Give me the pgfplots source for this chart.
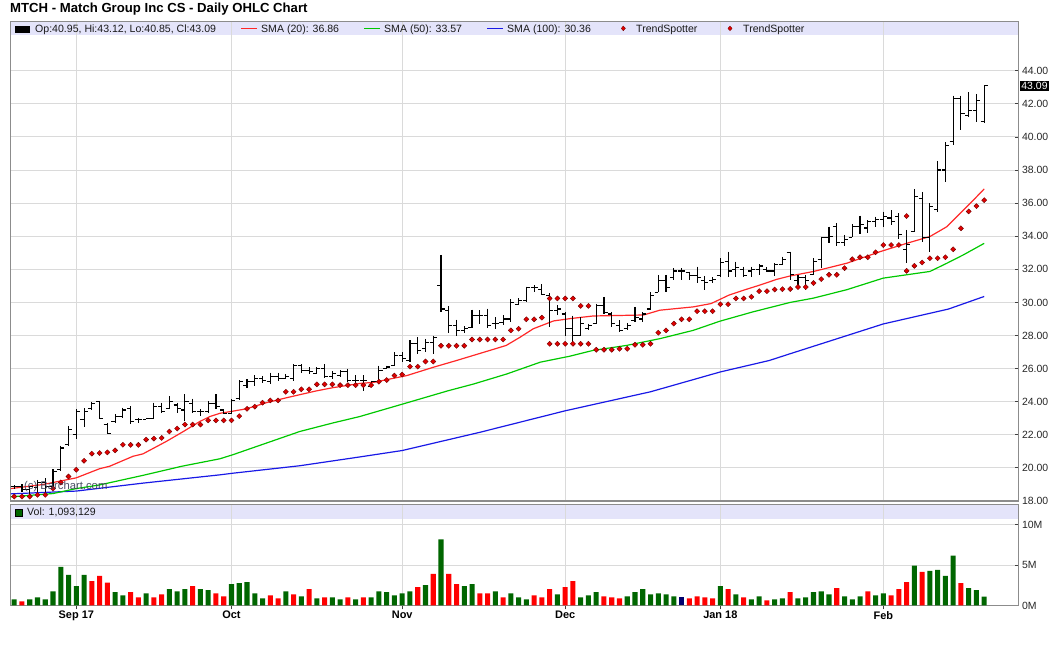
\documentclass[border=0pt]{standalone}
\usepackage{pgfplots}
\pgfplotsset{compat=1.18}
\usepackage{pgfplotstable}
\usepackage{fontspec}
\setmainfont{Liberation Sans}
\definecolor{bandc}{RGB}{228,228,250}
\definecolor{gridc}{RGB}{218,218,218}
\definecolor{framec}{RGB}{140,140,140}
\definecolor{vgreen}{RGB}{0,102,0}
\definecolor{vred}{RGB}{255,0,0}
\definecolor{vnavy}{RGB}{0,0,110}
\definecolor{smared}{RGB}{255,40,40}
\definecolor{smagreen}{RGB}{0,200,0}
\definecolor{smablue}{RGB}{25,25,230}
\definecolor{tsred}{RGB}{225,0,0}
\definecolor{tsdark}{RGB}{110,0,0}
\definecolor{wmark}{RGB}{55,60,85}

\pgfdeclareplotmark{openT}{\pgfpathmoveto{\pgfqpoint{-3.6bp}{0bp}}\pgfpathlineto{\pgfqpoint{0bp}{0bp}}\pgfusepathqstroke}
\pgfdeclareplotmark{closeT}{\pgfpathmoveto{\pgfqpoint{0bp}{0bp}}\pgfpathlineto{\pgfqpoint{3.6bp}{0bp}}\pgfusepathqstroke}

\pgfplotstableread{
i o h l c
0 18.85 18.95 18.75 18.85
1 18.90 19.00 18.57 18.70
2 18.70 18.92 18.27 18.85
3 18.80 19.28 18.57 19.10
4 19.10 19.38 18.57 18.90
5 18.90 19.93 18.77 19.80
6 19.90 21.35 19.83 21.20
7 21.40 22.52 21.35 22.30
8 22.00 23.53 21.77 23.40
9 22.90 23.60 22.50 23.40
10 23.60 24.00 23.50 23.90
11 24.00 24.05 22.93 23.00
12 22.60 22.72 22.08 22.10
13 22.80 23.23 22.72 23.10
14 23.10 23.64 23.03 23.50
15 23.60 23.74 22.68 22.80
16 22.90 23.03 22.72 22.90
17 22.95 23.03 22.93 23.00
18 23.00 23.94 22.93 23.70
19 23.70 23.94 23.33 23.40
20 23.60 24.34 23.53 24.00
21 23.80 23.94 23.33 23.60
22 23.50 24.45 22.82 24.00
23 23.90 24.18 23.33 23.40
24 23.40 23.53 23.13 23.40
25 23.40 24.04 23.33 23.90
26 23.90 24.45 23.53 23.70
27 23.50 23.53 23.23 23.30
28 23.30 24.14 23.23 24.10
29 24.20 25.30 24.10 25.20
30 25.00 25.36 24.85 25.20
31 25.20 25.60 24.95 25.40
32 25.40 25.56 25.15 25.30
33 25.20 25.76 25.05 25.50
34 25.50 25.76 25.26 25.40
35 25.40 25.66 25.36 25.50
36 25.40 26.27 25.26 26.20
37 26.20 26.27 25.76 25.90
38 25.90 26.07 25.66 25.80
39 25.70 26.07 25.66 26.00
40 26.00 26.27 25.46 25.50
41 25.50 25.86 25.36 25.70
42 25.60 25.90 25.50 25.80
43 25.80 26.00 25.20 25.30
44 25.30 25.60 24.87 25.30
45 25.30 25.60 24.67 25.30
46 24.90 25.27 24.87 25.20
47 25.20 26.18 25.07 25.90
48 26.00 26.18 25.98 26.10
49 26.20 27.00 26.18 26.80
50 26.80 27.00 26.39 26.60
51 26.50 27.70 26.39 27.50
52 27.50 27.90 26.90 27.10
53 27.20 27.80 26.98 27.60
54 27.60 28.00 26.90 27.90
55 31.00 32.87 29.43 29.60
56 29.50 29.77 28.15 28.60
57 28.60 28.96 27.95 28.30
58 28.30 28.55 28.15 28.40
59 28.50 29.57 28.47 29.20
60 29.20 29.53 28.71 29.20
61 29.20 29.63 28.47 28.60
62 28.70 29.09 28.41 28.70
63 28.80 29.23 28.61 29.00
64 29.00 30.18 28.82 30.00
65 29.90 30.24 29.83 30.10
66 30.10 30.95 30.03 30.90
67 30.90 31.05 30.64 30.90
68 30.80 31.09 30.44 30.50
69 30.40 30.54 28.51 29.50
70 29.50 29.83 29.23 29.60
71 29.30 29.43 28.00 28.40
72 28.40 29.20 27.60 28.00
73 28.00 29.10 28.00 28.70
74 28.40 28.72 28.31 28.60
75 28.70 29.93 28.72 29.80
76 29.80 30.34 29.33 29.40
77 29.30 29.43 28.51 28.70
78 28.60 28.92 28.21 28.30
79 28.40 28.76 28.31 28.60
80 28.90 29.73 28.82 29.10
81 29.00 29.43 28.82 29.30
82 29.60 30.64 29.53 30.40
83 30.60 31.66 30.64 31.30
84 31.30 31.66 30.64 30.90
85 31.50 32.06 31.35 31.90
86 31.90 32.06 31.35 31.90
87 31.80 31.86 31.35 31.60
88 31.60 32.16 31.15 31.50
89 31.30 31.60 30.78 31.20
90 31.30 31.51 31.15 31.40
91 31.60 32.67 31.51 32.40
92 32.50 33.07 31.51 31.90
93 32.00 32.47 31.51 32.10
94 32.00 32.16 31.51 31.60
95 31.90 32.16 31.51 32.00
96 32.00 32.32 31.66 32.20
97 32.00 32.12 31.86 31.90
98 31.90 32.36 31.60 32.30
99 32.30 32.77 32.26 32.60
100 33.00 33.07 31.37 31.70
101 31.30 31.67 30.97 31.50
102 31.50 31.67 30.77 31.30
103 31.70 32.67 31.67 32.50
104 32.60 33.98 32.07 33.90
105 33.90 34.58 33.58 34.00
106 34.60 34.78 33.38 33.60
107 33.60 34.08 33.38 33.80
108 33.90 34.74 33.98 34.60
109 34.60 35.24 34.14 34.70
110 34.50 34.98 34.22 34.90
111 34.90 35.18 34.58 35.00
112 35.00 35.48 34.58 35.20
113 35.10 35.58 34.68 34.90
114 35.20 35.38 33.82 34.10
115 33.20 34.38 32.41 33.50
116 34.30 36.84 34.28 36.40
117 36.30 36.68 33.67 33.90
118 33.90 35.98 33.07 35.80
119 35.60 38.55 35.48 38.00
120 38.00 39.69 37.29 39.50
121 39.70 42.50 39.49 42.30
122 42.30 42.50 40.40 41.40
123 41.30 42.70 41.20 41.60
124 41.60 42.60 40.90 42.20
125 40.95 43.12 40.85 43.09
}\ohlc

\pgfplotstableread{
i v
0 0.76
2 0.76
3 1.00
4 0.76
5 1.76
6 4.79
7 3.78
8 2.39
9 3.78
13 1.64
14 1.26
17 1.51
20 2.02
21 1.76
22 2.02
24 2.02
25 1.89
28 2.65
29 2.77
30 2.90
31 1.51
32 0.88
35 1.76
37 1.13
39 0.88
41 1.00
42 0.76
44 0.76
46 1.00
47 1.76
48 1.64
49 1.26
50 1.51
51 1.76
53 2.52
55 8.19
58 2.39
59 2.65
62 1.76
64 1.51
65 1.00
66 0.76
70 1.39
73 1.00
74 1.26
75 1.64
79 1.13
80 1.64
81 2.02
82 1.39
83 1.51
84 1.39
85 1.13
91 2.39
93 1.39
95 0.76
96 1.13
98 0.76
99 0.88
101 0.88
102 1.00
103 1.64
104 1.76
105 1.39
107 1.13
108 0.76
109 1.13
111 1.26
112 1.51
116 4.92
118 4.29
119 4.41
120 3.66
121 6.18
123 2.14
124 1.89
125 1.09
}\volgreen

\pgfplotstableread{
i v
1 0.50
10 3.03
11 3.66
12 2.82
15 1.64
16 1.00
18 1.00
19 1.39
23 2.39
26 1.51
27 1.13
33 1.26
34 0.88
36 1.39
38 2.02
40 1.00
43 1.00
45 1.00
52 2.27
54 3.91
56 3.91
57 2.65
60 1.51
61 1.51
63 1.00
67 1.26
68 1.00
69 2.02
71 2.27
72 3.03
76 1.13
77 1.00
78 0.88
87 0.88
88 1.13
89 1.00
90 0.88
92 2.02
94 1.00
97 0.63
100 1.64
106 2.14
110 1.76
113 1.26
114 2.02
115 2.90
117 4.16
122 2.77
}\volred

\pgfplotstableread{
i v
86 1.00
}\volnavy

\pgfplotstableread{
i p
0 18.27
1 18.27
2 18.27
3 18.37
4 18.37
5 18.75
6 19.12
7 19.48
8 19.89
9 20.43
10 20.86
11 20.90
12 20.94
13 21.06
14 21.40
15 21.39
16 21.39
17 21.71
18 21.77
19 21.81
20 22.20
21 22.38
22 22.62
23 22.62
24 22.62
25 22.87
26 22.87
27 22.87
28 22.87
29 23.13
30 23.57
31 23.70
32 23.94
33 24.08
34 24.08
35 24.60
36 24.60
37 24.75
38 24.75
39 25.05
40 25.05
41 25.05
42 25.00
43 25.00
44 25.00
45 25.00
46 25.00
47 25.21
48 25.31
49 25.58
50 25.64
51 26.12
52 26.12
53 26.43
54 26.43
55 27.38
56 27.38
57 27.38
58 27.38
59 27.76
60 27.76
61 27.76
62 27.76
63 27.76
64 28.31
65 28.41
66 28.98
67 28.98
68 29.08
69 27.50
70 27.50
71 27.50
72 27.50
73 27.50
74 27.50
75 27.14
76 27.14
77 27.14
78 27.20
79 27.20
80 27.44
81 27.44
82 27.50
83 28.17
84 28.31
85 28.72
86 28.98
87 28.98
88 29.47
89 29.47
90 29.47
91 29.89
92 29.89
93 30.24
94 30.24
95 30.34
96 30.68
97 30.68
98 30.78
99 30.80
100 30.81
101 30.93
102 30.93
103 31.17
104 31.41
105 31.67
106 31.67
107 32.07
108 32.61
109 32.73
110 32.73
111 33.03
112 33.47
113 33.47
114 33.47
115 31.91
116 32.21
117 32.41
118 32.67
119 32.67
120 32.73
121 33.21
122 34.48
123 35.50
124 35.82
125 36.18
}\tsone

\pgfplotstableread{
i p
69 30.24
70 30.24
71 30.24
72 30.24
73 29.79
74 29.79
115 35.22
}\tstwo

\begin{document}
\begin{tikzpicture}[x=1bp,y=1bp]
\path[use as bounding box] (0,0) rectangle (1060,645);
% legend bands (under the grid)
\fill[bandc] (10.8,609.5) rectangle (1018.5,623.7);
\fill[bandc] (10.8,125.7) rectangle (1018.5,140.3);

\begin{axis}[
  at={(10.8bp,144bp)}, anchor=south west,
  scale only axis, width=1007.7bp, height=479.7bp,
  xmin=-0.44, xmax=129.42, ymin=18, ymax=46.99,
  axis line style={framec, line width=1.2bp},
  grid=major, major grid style={gridc, line width=0.9bp},
  xtick={8,28,50,71,91,112}, xticklabels={},
  xtick style={draw=none},
  ytick={18,20,...,44},
  yticklabels={18.00,20.00,22.00,24.00,26.00,28.00,30.00,32.00,34.00,36.00,38.00,40.00,42.00,44.00},
  ytick pos=right, yticklabel pos=right,
  tick align=inside, major tick length=4bp,
  ytick style={draw=black!75, line width=0.8bp},
  yticklabel style={font=\fontsize{10.5}{12}\selectfont, text=black!85},
  clip mode=individual,
]
\addplot[smablue, line width=1.2bp] coordinates {
(-0.44,18.43) (8,18.6) (16.6,19.08) (26.5,19.58) (28.2,19.68) (36.8,20.13) (44.5,20.66) (50,21.05)
(60,22.15) (71,23.45) (82,24.6) (91,25.8) (97.3,26.49) (100,26.9) (112,28.7) (120.4,29.6) (125,30.36)};
\addplot[smagreen, line width=1.2bp] coordinates {
(-0.44,18.25) (5,18.45) (8,18.75) (11,18.97) (16.6,19.55) (21.6,20.1) (26.5,20.55) (28.2,20.8)
(32.5,21.5) (36.8,22.2) (41.1,22.72) (44.5,23.1) (50,23.85) (55.9,24.66) (59.2,25.07) (63.5,25.68)
(67.8,26.39) (71.6,26.75) (74.6,27.1) (78.9,27.4) (83.2,27.81) (87.5,28.31) (90.9,28.86) (95.2,29.43)
(100,30.0) (103,30.26) (107.3,30.77) (112,31.47) (115.9,31.73) (118,31.87) (120.2,32.37) (122.3,32.87) (125,33.57)};
\addplot[smared, line width=1.2bp] coordinates {
(-0.44,18.75) (3.75,19.0) (5.9,19.2) (8,19.4) (11,19.95) (12.3,20.1) (15.3,20.7) (16.6,20.85)
(19.6,21.6) (21.8,22.2) (23.9,22.8) (25.2,23.1) (26.5,23.3) (28.2,23.43) (29.9,23.57) (32.5,23.94)
(35.1,24.24) (38.9,24.65) (41.1,24.85) (44.5,25.1) (46.3,25.17) (50.6,25.58) (54.0,26.08) (57.0,26.49)
(61.3,27.1) (63.4,27.4) (65.2,27.9) (66.9,28.41) (69.5,28.88) (71.6,29.02) (74.6,29.18) (78.9,29.22)
(81.1,29.24) (83.2,29.53) (87.5,29.73) (89.8,29.93) (92.1,30.44) (94.0,30.74) (96.1,31.05) (98.3,31.4)
(100,31.6) (103,31.87) (107.3,32.37) (111.6,33.07) (115,33.57) (118,33.98) (120.2,34.58) (121.9,35.38)
(123.6,36.18) (125,36.86)};
% OHLC: high-low range
\addplot[draw=none, mark=none, forget plot,
  error bars/.cd, y dir=minus, y explicit, error mark=none,
  error bar style={draw=black, line width=1.1bp}]
  table[x=i, y=h, y error expr=\thisrow{h}-\thisrow{l}] {\ohlc};
\addplot[only marks, mark=openT, mark options={black, line width=1.1bp}] table[x=i, y=o] {\ohlc};
\addplot[only marks, mark=closeT, mark options={black, line width=1.1bp}] table[x=i, y=c] {\ohlc};
% TrendSpotter
\addplot[only marks, mark=square*, mark size=1.8bp,
  mark options={rotate=45, fill=tsred, draw=tsdark, line width=0.4bp}] table[x=i, y=p] {\tsone};
\addplot[only marks, mark=square*, mark size=1.8bp,
  mark options={rotate=45, fill=tsred, draw=tsdark, line width=0.4bp}] table[x=i, y=p] {\tstwo};
\node[anchor=west, fill=black, text=white, inner xsep=1.2bp, inner ysep=1.6bp,
  font=\fontsize{10.5}{12}\selectfont, xshift=1.5bp] at (axis cs:129.42,43.09) {43.09};
\end{axis}

\begin{axis}[
  at={(10.8bp,39.5bp)}, anchor=south west,
  scale only axis, width=1007.7bp, height=100.8bp,
  xmin=-0.44, xmax=129.42, ymin=0, ymax=12.47,
  axis line style={framec, line width=1.2bp},
  grid=major, major grid style={gridc, line width=0.9bp},
  xtick={8,28,50,71,91,112},
  xticklabels={Sep 17,Oct,Nov,Dec,Jan 18,Feb},
  xtick pos=left,
  xtick style={draw=black!75, line width=0.8bp, yshift=-4bp},
  xticklabel style={font=\bfseries\fontsize{11}{13}\selectfont, yshift=-2.2bp},
  ytick={0,5,10}, yticklabels={0M,5M,10M},
  ytick pos=right, yticklabel pos=right,
  tick align=inside, major tick length=4bp,
  ytick style={draw=black!75, line width=0.8bp},
  yticklabel style={font=\fontsize{10.5}{12}\selectfont, text=black!85},
]
\addplot[ybar, bar width=0.65, bar shift=0pt, fill=vgreen, draw=none] table[x=i, y=v] {\volgreen};
\addplot[ybar, bar width=0.65, bar shift=0pt, fill=vred, draw=none] table[x=i, y=v] {\volred};
\addplot[ybar, bar width=0.65, bar shift=0pt, fill=vnavy, draw=none] table[x=i, y=v] {\volnavy};
\end{axis}

% title
\node[anchor=base west, inner sep=0pt, font=\bfseries\fontsize{13.2}{15}\selectfont] at (10,632.2)
  {MTCH - Match Group Inc CS - Daily OHLC Chart};
% price legend
\tikzset{leg/.style={anchor=base west, inner sep=0pt, font=\fontsize{10.6}{12}\selectfont, text=black!90}}
\fill[black] (15.2,612.3) rectangle (30.4,618.7);
\node[leg] at (35,612.9) {Op:40.95, Hi:43.12, Lo:40.85, Cl:43.09};
\draw[smared, line width=1.2bp] (241,616.6) -- (257,616.6);
\node[leg] at (261,612.9) {SMA (20): 36.86};
\draw[smagreen, line width=1.2bp] (364,616.6) -- (380,616.6);
\node[leg] at (384,612.9) {SMA (50): 33.57};
\draw[smablue, line width=1.2bp] (487,616.6) -- (503,616.6);
\node[leg] at (507,612.9) {SMA (100): 30.36};
\filldraw[fill=tsred, draw=tsdark, line width=0.3bp] (623.3,619) -- (625.4,616.6) -- (623.3,614.2) -- (621.2,616.6) -- cycle;
\node[leg] at (636,612.9) {TrendSpotter};
\filldraw[fill=tsred, draw=tsdark, line width=0.3bp] (730,619) -- (732.1,616.6) -- (730,614.2) -- (727.9,616.6) -- cycle;
\node[leg] at (743,612.9) {TrendSpotter};
% volume legend
\filldraw[fill=vgreen, draw=black, line width=0.5bp] (15.2,129.1) rectangle (22.6,135.9);
\node[leg] at (27,129.1) {Vol: 1,093,129};
% watermark
\node[anchor=base west, inner sep=0pt, font=\fontsize{11.3}{13}\selectfont, text=wmark, opacity=0.9] at (24,155) {(c) Barchart.com};
\end{tikzpicture}
\end{document}
